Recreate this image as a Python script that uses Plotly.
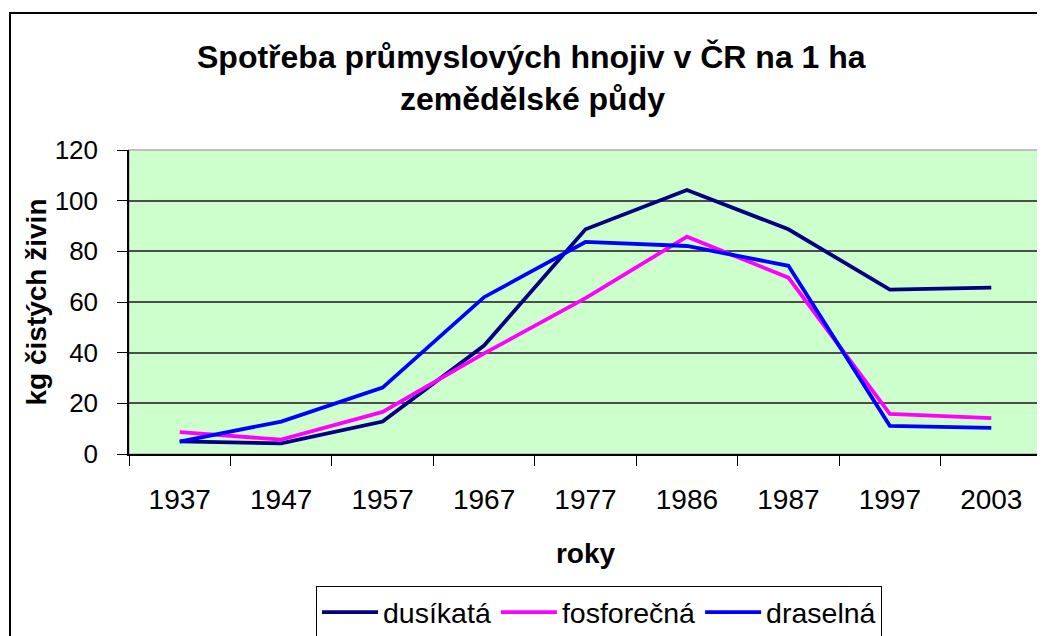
import plotly.graph_objects as go

years = ["1937", "1947", "1957", "1967", "1977", "1986", "1987", "1997", "2003"]
dusikata = [5.0, 4.2, 12.8, 42.8, 88.7, 104.2, 88.7, 64.9, 65.7]
fosforecna = [8.6, 5.7, 16.6, 39.7, 61.5, 85.8, 69.6, 15.8, 14.2]
draselna = [4.9, 12.8, 26.2, 61.9, 83.7, 82.1, 74.3, 11.1, 10.3]

series_names = ["dusíkatá", "fosforečná", "draselná"]
series_colors = ["#000080", "#FF00FF", "#0000FF"]
y_ticks = [0, 20, 40, 60, 80, 100, 120]

FONT = "Liberation Sans, Arial, sans-serif"

# page body has an 8px default margin: work in screen pixels and convert
OFF = 8
W, H = 1045, 636
PLOT_L, PLOT_R, PLOT_T, PLOT_B = 129, 1042, 150, 454  # screen pixels
L = PLOT_L - OFF
T = PLOT_T - OFF
R = W - (PLOT_R - OFF)
B = H - (PLOT_B - OFF)
PW = PLOT_R - PLOT_L
PH = PLOT_B - PLOT_T


def px_x(x):
    return (x - PLOT_L) / PW


def px_y(y):
    return (PLOT_B - y) / PH


fig = go.Figure()
for name, vals, col in zip(series_names, [dusikata, fosforecna, draselna], series_colors):
    fig.add_trace(go.Scatter(x=years, y=vals, name=name, mode="lines",
                             line=dict(color=col, width=3.8)))

fig.update_layout(
    width=W, height=H,
    margin=dict(l=L, r=R, t=T, b=B, pad=0, autoexpand=False),
    paper_bgcolor="white",
    plot_bgcolor="#CCFFCC",
    font=dict(family=FONT, color="black", size=26),
    showlegend=True,
    legend=dict(
        orientation="h",
        x=px_x(316), y=px_y(586), xanchor="left", yanchor="top",
        bordercolor="black", borderwidth=1,
        font=dict(size=28.5, family=FONT),
        bgcolor="white",
        itemwidth=56,
        tracegroupgap=0,
    ),
    xaxis=dict(
        type="category",
        range=[-0.5, len(years) - 0.5],
        automargin=False,
        showline=True, linecolor="black", linewidth=1.5,
        ticks="outside", ticklen=10, tickcolor="black", tickwidth=1,
        tickson="boundaries",
        showgrid=False,
        tickfont=dict(size=28),
        title=dict(text="<b>roky</b>", font=dict(size=28), standoff=29),
        ticklabelstandoff=20,
    ),
    yaxis=dict(
        range=[0, 120], tickvals=y_ticks,
        automargin=False,
        showline=True, linecolor="black", linewidth=1.5,
        ticks="outside", ticklen=10, tickcolor="black", tickwidth=1,
        showgrid=True, gridcolor="#4d4d4d", gridwidth=1.5,
        zeroline=False,
        tickfont=dict(size=26),
        title=dict(text="<b>kg čistých živin</b>", font=dict(size=28), standoff=0),
        ticklabelstandoff=14,
    ),
)

# plot-area gray border (top/right)
fig.add_shape(type="rect", xref="paper", yref="paper", x0=0, y0=0, x1=1, y1=1,
              line=dict(color="#BFBFBF", width=2), layer="below")
# outer chart frame
fig.add_shape(type="rect", xref="paper", yref="paper",
              x0=px_x(10), y0=px_y(13), x1=px_x(1070), y1=px_y(680),
              line=dict(color="black", width=2), layer="above")

# title lines
fig.add_annotation(text="<b>Spotřeba průmyslových hnojiv v ČR na 1 ha</b>",
                   xref="paper", yref="paper", x=px_x(531), y=px_y(57),
                   xanchor="center", yanchor="middle", showarrow=False,
                   font=dict(size=32, family=FONT))
fig.add_annotation(text="<b>zemědělské půdy</b>",
                   xref="paper", yref="paper", x=px_x(532), y=px_y(99),
                   xanchor="center", yanchor="middle", showarrow=False,
                   font=dict(size=32, family=FONT))

fig.write_html("out.html")
